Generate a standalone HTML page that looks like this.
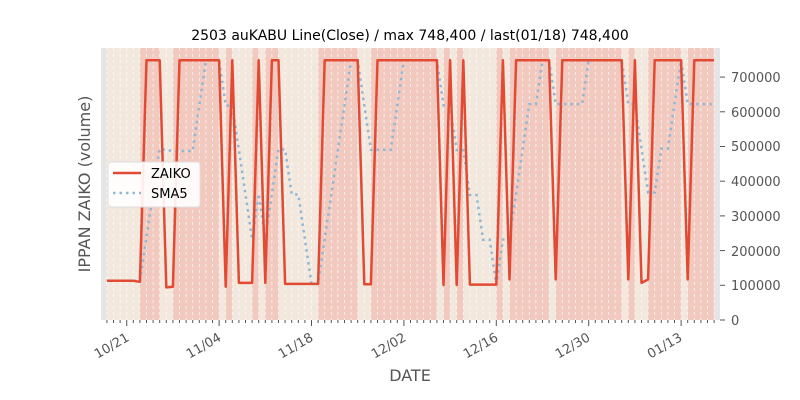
<!DOCTYPE html>
<html><head><meta charset="utf-8"><style>
html,body{margin:0;padding:0;background:#fff;}
svg{display:block;font-family:"DejaVu Sans","Liberation Sans",sans-serif;}
</style></head><body>
<svg id="s" width="800" height="400" viewBox="0 0 800 400" xmlns="http://www.w3.org/2000/svg">
<rect x="0" y="0" width="800" height="400" fill="#fff"/>
<rect x="101" y="48" width="619" height="272" fill="#e5e5e5"/>
<g id="bg"></g>
<g id="grid"></g>
<g id="lines"></g>
<g id="ticks" stroke="#555" stroke-width="1"></g>
<text x="410" y="40" font-size="14" text-anchor="middle" fill="#000">2503 auKABU Line(Close) / max 748,400 / last(01/18) 748,400</text>
<g font-size="13" fill="#555">
<text x="731" y="82">700000</text>
<text x="731" y="117">600000</text>
<text x="731" y="151">500000</text>
<text x="731" y="186">400000</text>
<text x="731" y="221">300000</text>
<text x="731" y="256">200000</text>
<text x="731" y="290">100000</text>
<text x="731" y="325">0</text>
</g>
<g font-size="13" fill="#555" text-anchor="end">
<text transform="translate(130,340) rotate(-30)">10/21</text>
<text transform="translate(222,340) rotate(-30)">11/04</text>
<text transform="translate(314,340) rotate(-30)">11/18</text>
<text transform="translate(407,340) rotate(-30)">12/02</text>
<text transform="translate(499,340) rotate(-30)">12/16</text>
<text transform="translate(591,340) rotate(-30)">12/30</text>
<text transform="translate(683,340) rotate(-30)">01/13</text>
</g>
<text x="410" y="381" font-size="16" text-anchor="middle" fill="#555">DATE</text>
<text transform="translate(90,184) rotate(-90)" font-size="16" text-anchor="middle" fill="#555">IPPAN ZAIKO (volume)</text>
<g>
<rect x="108" y="162" width="92" height="45" rx="3" fill="#fff" fill-opacity="0.9" stroke="#ddd"/>
<line x1="113" y1="173" x2="141" y2="173" stroke="#e24a33" stroke-width="2.5"/>
<text x="151" y="178" font-size="13" fill="#000">ZAIKO</text>
<line x1="113" y1="193" x2="141" y2="193" stroke="#8eb8d6" stroke-width="2.5" stroke-dasharray="2.5,4"/>
<text x="151" y="198" font-size="13" fill="#000">SMA5</text>
</g>
</svg>
<script>
(function(){
var NS="http://www.w3.org/2000/svg";
function el(p,t,a){var e=document.createElementNS(NS,t);for(var k in a)e.setAttribute(k,a[k]);p.appendChild(e);return e;}
var T=748400;
var v=[];
for(var i=0;i<93;i++)v.push(T);
function set(a,b,val){for(var i=a;i<=b;i++)v[i]=val;}
set(0,4,113000);v[5]=110000;
v[9]=94000;v[10]=96000;v[18]=96000;set(20,22,107000);v[24]=107000;
set(27,32,104000);v[39]=103000;v[40]=103000;v[51]=101000;v[53]=101000;
set(55,59,102000);v[61]=117000;v[68]=117000;v[79]=117000;v[81]=107000;v[82]=117000;v[88]=117000;
function X(d){return 106.9+6.6*d;}
function Y(val){return 320-val/100000*34.7;}
var bg=document.getElementById('bg');
el(bg,'rect',{x:X(0),y:48,width:X(92)-X(0),height:272,fill:'#f3e8de'});
for(var d=1;d<93;d++){if(v[d]>=T)el(bg,'rect',{x:X(d-1),y:48,width:6.6,height:272,fill:'#f2c9bf'});}
var g=document.getElementById('grid');
for(var d=0;d<=92;d++)el(g,'line',{x1:X(d),y1:48,x2:X(d),y2:320,stroke:'#fff','stroke-width':0.8,'stroke-dasharray':'3,3','stroke-opacity':0.8});
var L=document.getElementById('lines');
var sp=[];for(var d=4;d<93;d++){var s=0;for(var k=d-4;k<=d;k++)s+=v[k];sp.push(X(d).toFixed(1)+','+Y(s/5).toFixed(1));}
el(L,'polyline',{points:sp.join(' '),fill:'none',stroke:'#8eb8d6','stroke-width':2.5,'stroke-dasharray':'2.5,4'});
var zp=[];for(var d=0;d<93;d++)zp.push(X(d).toFixed(1)+','+Y(v[d]).toFixed(1));
el(L,'polyline',{points:zp.join(' '),fill:'none',stroke:'#e24a33','stroke-width':2.5,'stroke-linejoin':'round'});
var t=document.getElementById('ticks');
for(var d=0;d<=92;d++){var maj=((d-3)%14===0);el(t,'line',{x1:X(d),y1:320,x2:X(d),y2:maj?326:323});}
for(var i=0;i<=7;i++){var y=Y(i*100000);el(t,'line',{x1:720,y1:y,x2:725,y2:y});}
})();
</script>
</body></html>
